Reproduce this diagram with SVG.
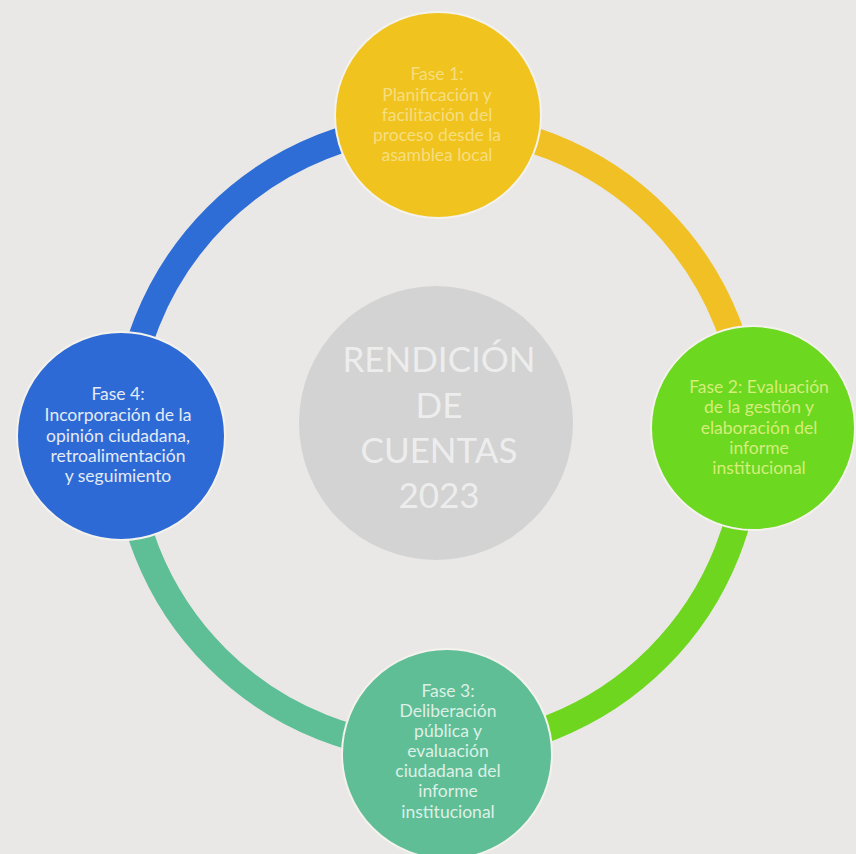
<svg xmlns="http://www.w3.org/2000/svg" width="856" height="854" viewBox="0 0 856 854">
<style>
.ring{fill:none;stroke-width:26}
.node{stroke:#F4F2EC;stroke-width:2}
.t{font-family:Lato,"Open Sans","Liberation Sans",sans-serif;font-size:17.5px;text-anchor:middle}
.c{font-family:Lato,"Open Sans","Liberation Sans",sans-serif;font-size:35px;text-anchor:middle;fill:#EDEDED}
</style>
<rect width="856" height="854" fill="#E9E8E6"/>
<g id="connectors">
<path class="ring" stroke="#2F6DD6" d="M125,437 A312,312 0 0 1 437,125"/>
<path class="ring" stroke="#F0C024" d="M437,125 A312,312 0 0 1 749,437"/>
<path class="ring" stroke="#6ED61E" d="M749,437 A312,312 0 0 1 437,749"/>
<path class="ring" stroke="#5EBE96" d="M437,749 A312,312 0 0 1 125,437"/>
</g>
<g id="center">
<circle cx="436" cy="423" r="137" fill="#D3D3D3"/>
<text class="c"><tspan x="439" y="372">RENDICIÓN</tspan><tspan x="439" y="418">DE</tspan><tspan x="439" y="463">CUENTAS</tspan><tspan x="439" y="508">2023</tspan></text>
</g>
<g id="fase1">
<circle class="node" cx="438" cy="115" r="103" fill="#F1C31E"/>
<text class="t" fill="#F6DE7E"><tspan x="437" y="80">Fase 1:</tspan><tspan x="437" y="101">Planificación y</tspan><tspan x="437" y="121">facilitación del</tspan><tspan x="437" y="141">proceso desde la</tspan><tspan x="437" y="161">asamblea local</tspan></text>
</g>
<g id="fase2">
<circle class="node" cx="753" cy="428" r="102" fill="#6CD81F"/>
<text class="t" fill="#D4EE7A"><tspan x="759" y="393">Fase 2: Evaluación</tspan><tspan x="759" y="413">de la gestión y</tspan><tspan x="759" y="434">elaboración del</tspan><tspan x="759" y="454">informe</tspan><tspan x="759" y="474">institucional</tspan></text>
</g>
<g id="fase3">
<circle class="node" cx="447" cy="754" r="105" fill="#5FBE96"/>
<text class="t" fill="#DDF0E6"><tspan x="448" y="697">Fase 3:</tspan><tspan x="448" y="717">Deliberación</tspan><tspan x="448" y="737">pública y</tspan><tspan x="448" y="757">evaluación</tspan><tspan x="448" y="777">ciudadana del</tspan><tspan x="448" y="797">informe</tspan><tspan x="448" y="818">institucional</tspan></text>
</g>
<g id="fase4">
<circle class="node" cx="121" cy="436" r="104" fill="#2E6AD5"/>
<text class="t" fill="#E3EAF6"><tspan x="118" y="400">Fase 4:</tspan><tspan x="118" y="421">Incorporación de la</tspan><tspan x="118" y="442">opinión ciudadana,</tspan><tspan x="118" y="462">retroalimentación</tspan><tspan x="118" y="482">y seguimiento</tspan></text>
</g>
</svg>
